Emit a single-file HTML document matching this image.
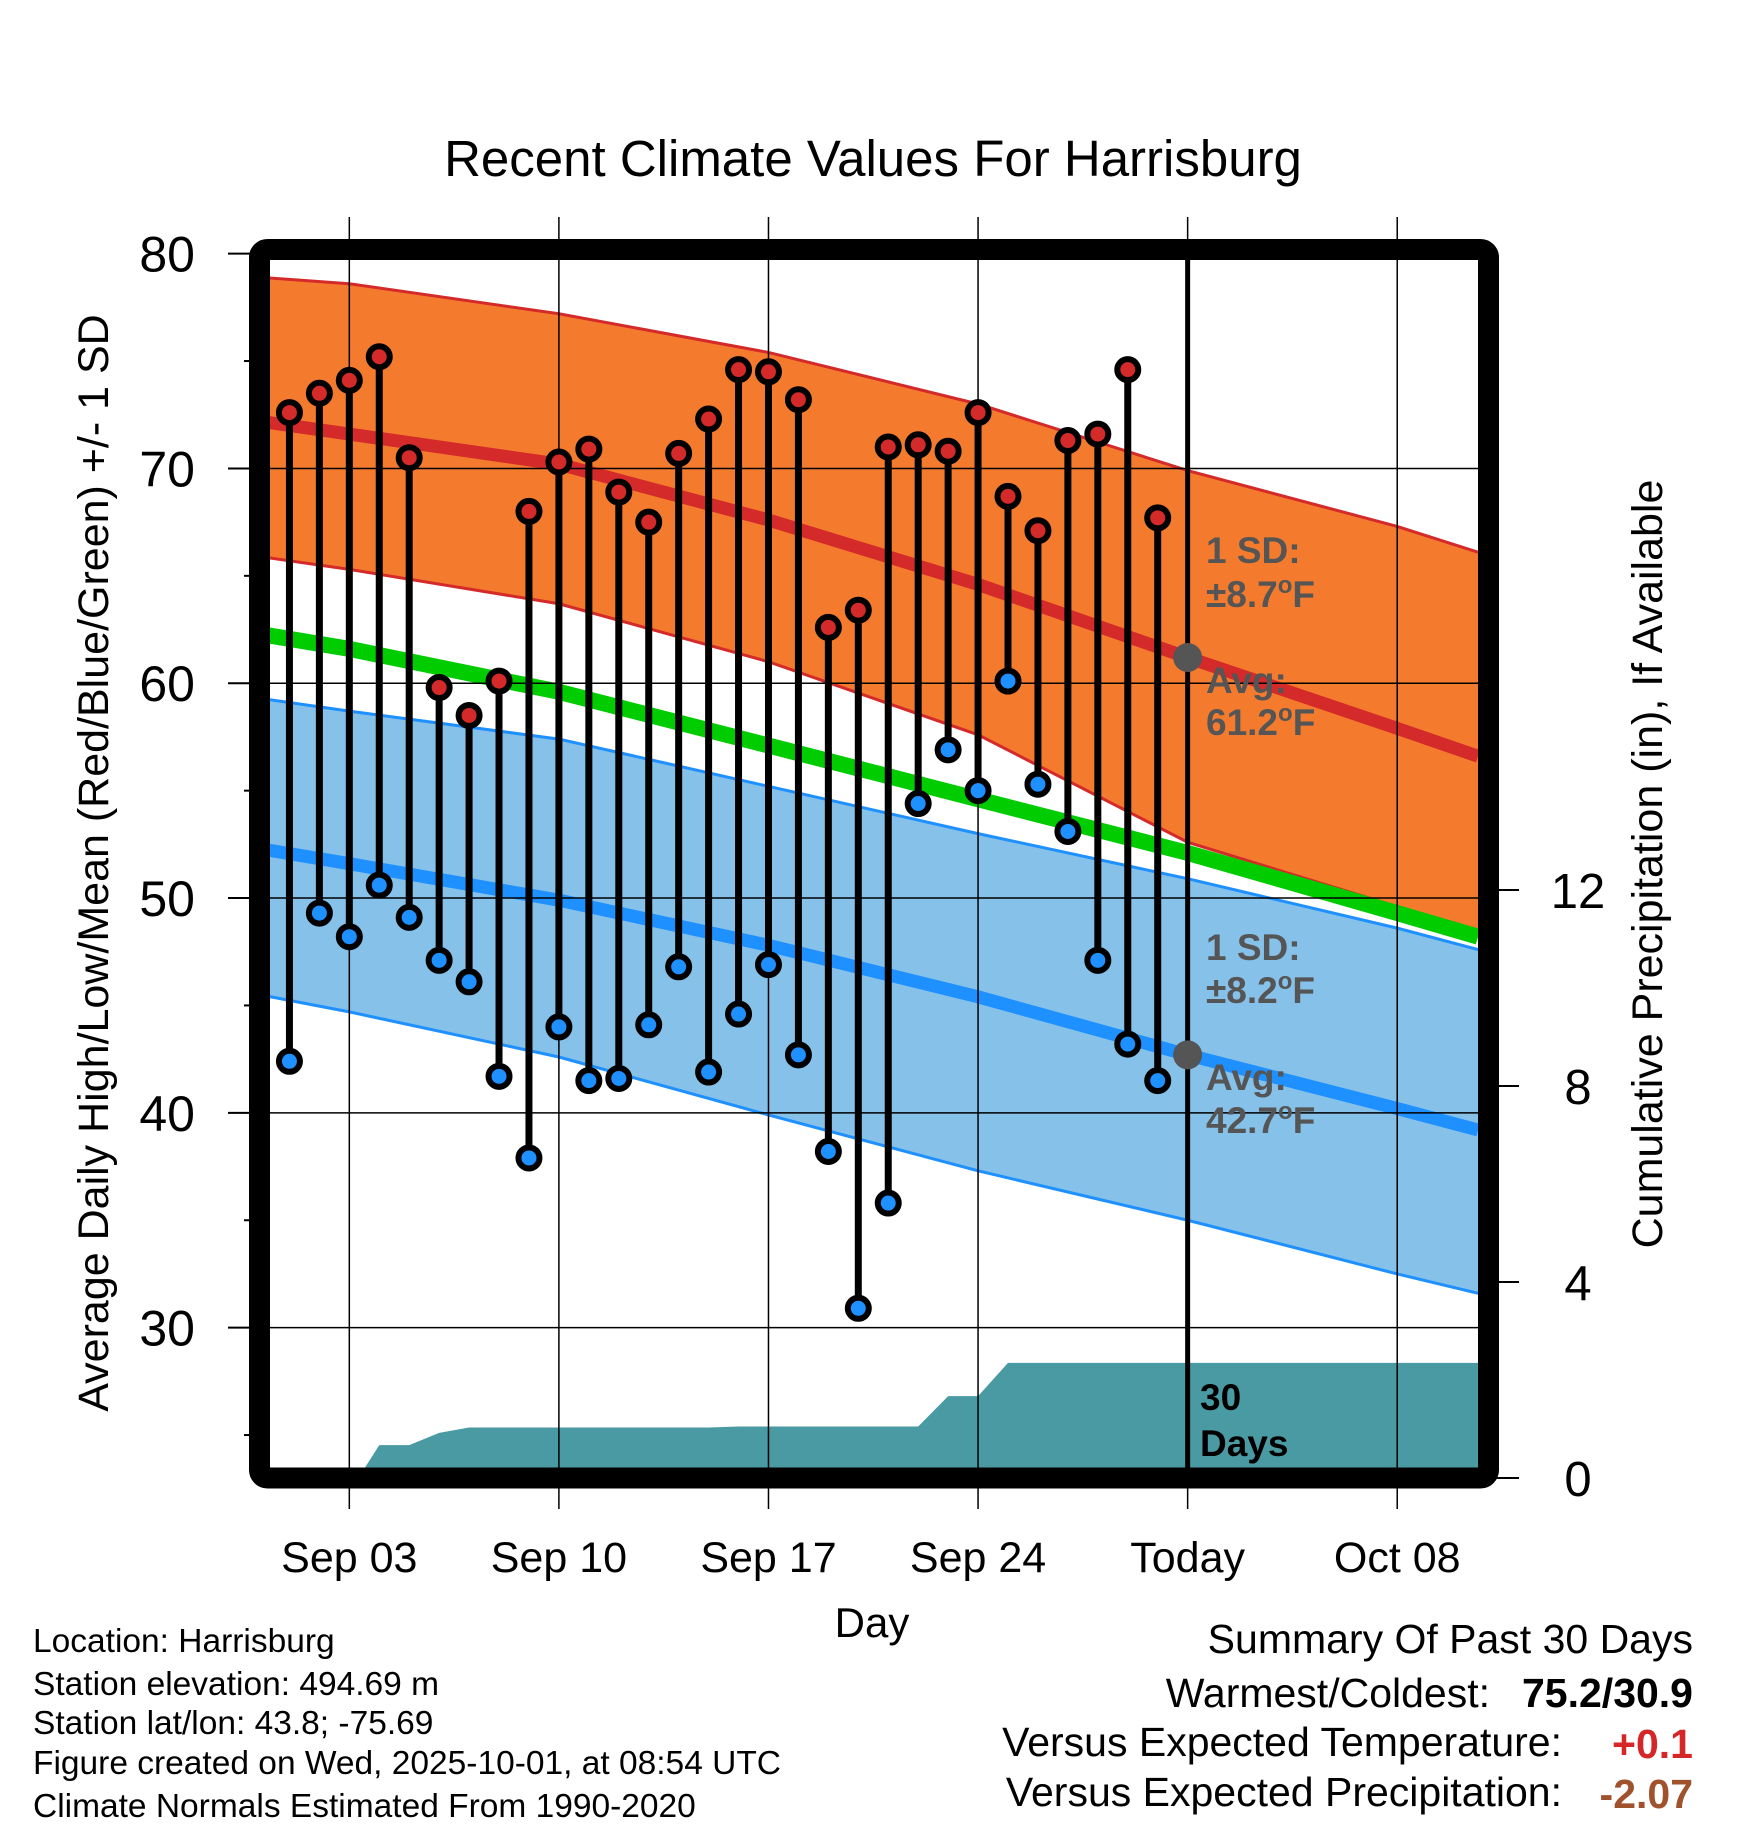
<!DOCTYPE html>
<html><head><meta charset="utf-8"><style>
html,body{margin:0;padding:0;background:#fff;}
svg{display:block;font-family:"Liberation Sans",sans-serif;}
</style></head><body>
<svg id="chart" width="1748" height="1828" viewBox="0 0 1748 1828" xmlns="http://www.w3.org/2000/svg">
<text x="873" y="176" font-size="51" text-anchor="middle">Recent Climate Values For Harrisburg</text>
<g id="plot"></g>
<text transform="translate(108,863) rotate(-90)" font-size="43" text-anchor="middle">Average Daily High/Low/Mean (Red/Blue/Green) +/- 1 SD</text>
<text transform="translate(1662,864) rotate(-90)" font-size="43" text-anchor="middle">Cumulative Precipitation (in), If Available</text>
<text x="872" y="1637" font-size="42" text-anchor="middle">Day</text>
<g font-size="33.5">
<text x="33" y="1652">Location: Harrisburg</text>
<text x="33" y="1695">Station elevation: 494.69 m</text>
<text x="33" y="1734">Station lat/lon: 43.8; -75.69</text>
<text x="33" y="1774">Figure created on Wed, 2025-10-01, at 08:54 UTC</text>
<text x="33" y="1817">Climate Normals Estimated From 1990-2020</text>
</g>
<g font-size="41" text-anchor="end">
<text x="1693" y="1653">Summary Of Past 30 Days</text>
<text x="1490" y="1707">Warmest/Coldest:</text>
<text x="1693" y="1707" font-weight="bold">75.2/30.9</text>
<text x="1562" y="1756">Versus Expected Temperature:</text>
<text x="1693" y="1758" font-weight="bold" fill="#d62728">+0.1</text>
<text x="1562" y="1806">Versus Expected Precipitation:</text>
<text x="1693" y="1808" font-weight="bold" fill="#a0522d">-2.07</text>
</g>
</svg>
<script>
const normDays=[0,3,10,17,24,31,38,40.7];
const highMean=[72.2,71.6,70.2,67.6,64.6,61.2,57.9,56.6];
const highUpper=[78.9,78.6,77.2,75.4,73.0,69.9,67.3,66.1];
const highLower=[65.9,65.3,63.7,61.0,57.6,52.6,49.6,48.5];
const meanNorm=[62.3,61.6,59.6,57.1,54.6,52.1,49.3,48.2];
const lowMean=[52.3,51.6,49.9,47.8,45.4,42.7,40.2,39.2];
const lowUpper=[59.3,58.7,57.4,55.2,53.0,50.9,48.6,47.6];
const lowLower=[45.5,44.7,42.6,39.9,37.3,35.0,32.5,31.6];
const obsDays=[1,2,3,4,5,6,7,8,9,10,11,12,13,14,15,16,17,18,19,20,21,22,23,24,25,26,27,28,29,30];
const highs=[72.6,73.5,74.1,75.2,70.5,59.8,58.5,60.1,68.0,70.3,70.9,68.9,67.5,70.7,72.3,74.6,74.5,73.2,62.6,63.4,71.0,71.1,70.8,72.6,68.7,67.1,71.3,71.6,74.6,67.7];
const lows=[42.4,49.3,48.2,50.6,49.1,47.1,46.1,41.7,37.9,44.0,41.5,41.6,44.1,46.8,41.9,44.6,46.9,42.7,38.2,30.9,35.8,54.4,56.9,55.0,60.1,55.3,53.1,47.1,43.2,41.5];
const precipDays=[3.3,4,5,6,7,15,16,22,23,24,25,30,40.7];
const precipVals=[0,0.67,0.67,0.92,1.03,1.03,1.05,1.05,1.67,1.67,2.35,2.35,2.35];
const xTickDays=[3,10,17,24,31,38];
const xTickLabels=["Sep 03","Sep 10","Sep 17","Sep 24","Today","Oct 08"];
const yTicks=[30,40,50,60,70,80];
const y2Ticks=[0,4,8,12];
const todayDay=31, todayHigh=61.2, todayLow=42.7;
const sdHigh=8.7, sdLow=8.2;

const NS="http://www.w3.org/2000/svg";
const plot=document.getElementById('plot');
const X=d=>259.5+d*29.94;
const Y=t=>1478-(t-23)*21.48;
const YP=p=>1478-p*49;
function mk(tag,attrs,parent){const e=document.createElementNS(NS,tag);for(const k in attrs)e.setAttribute(k,attrs[k]);(parent||plot).appendChild(e);return e;}
function line(arr){return normDays.map((d,i)=>X(d)+','+Y(arr[i])).join(' ');}
function band(up,lo){const a=normDays.map((d,i)=>X(d)+','+Y(up[i]));const b=normDays.map((d,i)=>X(d)+','+Y(lo[i])).reverse();return a.concat(b).join(' ');}

const defs=mk('defs',{});
const cp=mk('clipPath',{id:'clip'},defs);
mk('rect',{x:270,y:260,width:1208,height:1208},cp);
const g=mk('g',{'clip-path':'url(#clip)'});

let e;
e=mk('polygon',{points:band(highUpper,highLower),fill:'#f47b2d'},g);


mk('polyline',{points:line(highUpper),fill:'none',stroke:'#d42a2a','stroke-width':3},g);
mk('polyline',{points:line(highLower),fill:'none',stroke:'#d42a2a','stroke-width':3},g);
e=mk('polygon',{points:band(lowUpper,lowLower),fill:'#85c1e9'},g);


mk('polyline',{points:line(lowUpper),fill:'none',stroke:'#1e90ff','stroke-width':3},g);
mk('polyline',{points:line(lowLower),fill:'none',stroke:'#1e90ff','stroke-width':3},g);
e=mk('polyline',{points:line(meanNorm),fill:'none',stroke:'#00cc00','stroke-width':16},g);


e=mk('polyline',{points:line(highMean),fill:'none',stroke:'#d42a2a','stroke-width':13},g);


e=mk('polyline',{points:line(lowMean),fill:'none',stroke:'#1e90ff','stroke-width':13},g);



// grid
yTicks.forEach(t=>{mk('line',{x1:259,x2:1489,y1:Y(t),y2:Y(t),stroke:'#000','stroke-width':1.5});});
xTickDays.forEach(d=>{mk('line',{x1:X(d),x2:X(d),y1:217,y2:1509,stroke:'#000','stroke-width':1.5});});

// precip
const pp=[X(precipDays[0])+','+1480].concat(precipDays.map((d,i)=>X(d)+','+YP(precipVals[i]))).concat([X(precipDays[precipDays.length-1])+','+1480]);
e=mk('polygon',{points:pp.join(' '),fill:'#4a9aa3'},g);



// today line
e=mk('line',{x1:X(todayDay),x2:X(todayDay),y1:250,y2:1478,stroke:'#000','stroke-width':5});



// observations
obsDays.forEach((d,i)=>{
  const x=X(d);
  const s=mk('line',{x1:x,x2:x,y1:Y(highs[i]),y2:Y(lows[i]),stroke:'#000','stroke-width':7});
  
  
  const h=mk('circle',{cx:x,cy:Y(highs[i]),r:10.5,fill:'#d42a2a',stroke:'#000','stroke-width':6});
  
  
  const l=mk('circle',{cx:x,cy:Y(lows[i]),r:10.5,fill:'#1e90ff',stroke:'#000','stroke-width':6});
  
  
});

// today markers
e=mk('circle',{cx:X(todayDay),cy:Y(todayHigh),r:14.5,fill:'#555'});


e=mk('circle',{cx:X(todayDay),cy:Y(todayLow),r:14.5,fill:'#555'});



// annotations
function annot(txt,y,deg){
  const t=mk('text',{x:1206,y:y,'font-size':37,'font-weight':'bold',fill:'#555'});
  
  
  if(deg){
    t.appendChild(document.createTextNode(txt));
    const s1=mk('tspan',{'font-size':24,dy:-14},t);s1.textContent='o';
    const s2=mk('tspan',{dy:14},t);s2.textContent='F';
  } else t.textContent=txt;
}
annot("1 SD:",563,false);
annot("\u00b1"+sdHigh,607,true);
annot("Avg:",693,false);
annot(String(todayHigh),735,true);
annot("1 SD:",960,false);
annot("\u00b1"+sdLow,1003,true);
annot("Avg:",1090,false);
annot(String(todayLow),1133,true);
e=mk('text',{x:1200,y:1410,'font-size':37,'font-weight':'bold'});e.textContent='30';


e=mk('text',{x:1200,y:1456,'font-size':37,'font-weight':'bold'});e.textContent='Days';



// frame
e=mk('rect',{x:259.5,y:249.5,width:1229,height:1228.5,rx:8,fill:'none',stroke:'#000','stroke-width':21});



// y ticks
for(let t=25;t<=80;t+=5){const major=t%10===0;mk('line',{x1:major?228:244,x2:260,y1:Y(t),y2:Y(t),stroke:'#000','stroke-width':2});}
yTicks.forEach(t=>{const tx=mk('text',{x:195,y:Y(t)+18,'font-size':50,'text-anchor':'end'});tx.textContent=t;

});
y2Ticks.forEach(p=>{mk('line',{x1:1489,x2:1519,y1:YP(p),y2:YP(p),stroke:'#000','stroke-width':2});
const tx=mk('text',{x:1578,y:YP(p)+18,'font-size':49,'text-anchor':'middle'});tx.textContent=p;

});
xTickDays.forEach((d,i)=>{const tx=mk('text',{x:X(d),y:1572,'font-size':43,'text-anchor':'middle'});tx.textContent=xTickLabels[i];

});
</script>
</body></html>
